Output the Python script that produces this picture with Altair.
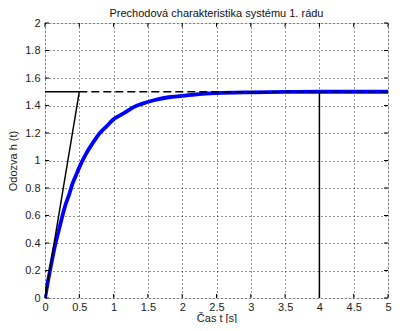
import altair as alt
import pandas as pd

# Step response
t_vals = [0, 0.05, 0.1, 0.15, 0.2, 0.25, 0.3, 0.35, 0.4, 0.45, 0.5, 0.6, 0.7, 0.8, 0.9, 1.0, 1.1, 1.2, 1.3, 1.4, 1.6, 1.8, 2.0, 2.25, 2.5, 3.0, 3.5, 4.0, 4.5, 5.0]
h_vals = [0, 0.14, 0.27, 0.39, 0.49, 0.59, 0.68, 0.75, 0.83, 0.89, 0.95, 1.05, 1.13, 1.20, 1.25, 1.30, 1.33, 1.36, 1.39, 1.41, 1.44, 1.46, 1.47, 1.483, 1.49, 1.496, 1.499, 1.50, 1.50, 1.50]

# Construction lines
tangent_t = [0, 0.5]
tangent_h = [0, 1.5]
level_solid_t = [0, 0.5]
level_dash_t = [0.5, 5]
level_h = 1.5
settle_t = 4.0

x_ticks = [0, 0.5, 1, 1.5, 2, 2.5, 3, 3.5, 4, 4.5, 5]
y_ticks = [0, 0.2, 0.4, 0.6, 0.8, 1, 1.2, 1.4, 1.6, 1.8, 2]

FONT = "Liberation Sans"
W, H = 343, 275

xs = alt.Scale(domain=[0, 5], nice=False, zero=False)
ys = alt.Scale(domain=[0, 2], nice=False, zero=False)

common = dict(grid=True, gridDash=[1, 3], gridColor="#000000", gridOpacity=0.85, gridWidth=1,
              ticks=False, domain=False, labelFont=FONT, labelFontSize=11, labelColor="#222",
              labelOverlap=False, labelFlush=False, format="~g", titleFont=FONT, titleFontSize=11,
              titleFontWeight="normal", titleColor="#222")
xaxis = alt.Axis(values=x_ticks, labelPadding=3, title="Čas t [s]", titlePadding=0, **common)
yaxis = alt.Axis(values=y_ticks, labelPadding=5, title="Odozva h (t)", titlePadding=6, **common)


def X(field="t"):
    return alt.X(f"{field}:Q", scale=xs, axis=xaxis, title="Čas t [s]")


def Y(field="h"):
    return alt.Y(f"{field}:Q", scale=ys, axis=yaxis, title="Odozva h (t)")


curve = pd.DataFrame({"t": t_vals, "h": h_vals})
base_curve = alt.Chart(curve).mark_line(color="#0000FF", strokeWidth=3.8, clip=True,
                                        interpolate="monotone").encode(x=X(), y=Y())

tang = pd.DataFrame({"t": tangent_t, "h": tangent_h})
tang_line = alt.Chart(tang).mark_line(color="black", strokeWidth=1.5).encode(x=X(), y=Y())

solid = pd.DataFrame({"t": level_solid_t, "h": [level_h, level_h]})
solid_line = alt.Chart(solid).mark_line(color="black", strokeWidth=1.5).encode(x=X(), y=Y())

dash = pd.DataFrame({"t": level_dash_t, "h": [level_h, level_h]})
dash_line = alt.Chart(dash).mark_line(color="black", strokeWidth=1.5, strokeDash=[8, 4]).encode(x=X(), y=Y())

settle = pd.DataFrame({"t": [settle_t, settle_t], "h": [0, level_h]})
settle_line = alt.Chart(settle).mark_line(color="black", strokeWidth=1.5).encode(x=X(), y=Y())

# inward ticks (MATLAB style)
xt = pd.DataFrame({"t": x_ticks})
yt = pd.DataFrame({"h": y_ticks})
xt_bottom = alt.Chart(xt).mark_rule(color="black", strokeWidth=1).encode(
    x=X(), y=alt.value(H), y2=alt.value(H - 4))
xt_top = alt.Chart(xt).mark_rule(color="black", strokeWidth=1).encode(
    x=X(), y=alt.value(0), y2=alt.value(4))
yt_left = alt.Chart(yt).mark_rule(color="black", strokeWidth=1).encode(
    y=Y(), x=alt.value(0), x2=alt.value(4))
yt_right = alt.Chart(yt).mark_rule(color="black", strokeWidth=1).encode(
    y=Y(), x=alt.value(W), x2=alt.value(W - 4))

chart = alt.layer(
    base_curve, dash_line, solid_line, tang_line, settle_line,
    xt_bottom, xt_top, yt_left, yt_right,
).properties(
    width=W, height=H,
    title=alt.TitleParams("Prechodová charakteristika systému 1. rádu", font=FONT, fontSize=11,
                          fontWeight="normal", color="#111", offset=-2),
    autosize=alt.AutoSizeParams(type="none"),
    padding={"left": 37, "top": 15, "right": 4, "bottom": 25},
).configure_view(stroke="black", strokeWidth=1).configure(background="white")

chart.save("out.html", embed_options={"renderer": "svg", "actions": False})
